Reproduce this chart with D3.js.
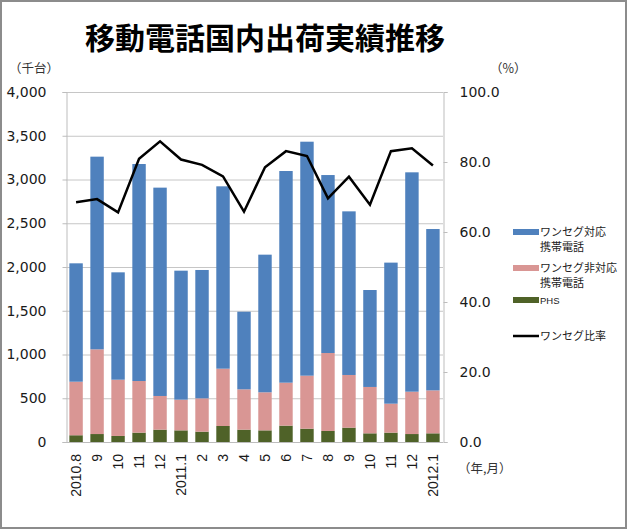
<!DOCTYPE html>
<html>
<head>
<meta charset="utf-8">
<script src="https://cdn.jsdelivr.net/npm/d3@7"></script>
<style>
  body { margin: 0; background: #fff; }
  svg { display: block; }
</style>
</head>
<body>
<svg id="chart"></svg>
<script>
// Data (千台 / %)
const months = ["2010.8", "9", "10", "11", "12", "2011.1", "2", "3", "4", "5", "6", "7", "8", "9", "10", "11", "12", "2012.1"];
const phs = [77, 91, 69, 107, 141, 133, 118, 183, 141, 133, 187, 152, 126, 164, 99, 107, 91, 99];
const nonOneSeg = [612, 968, 643, 590, 385, 351, 381, 655, 461, 435, 491, 606, 891, 602, 530, 331, 484, 491];
const oneSeg = [1353, 2202, 1227, 2480, 2381, 1474, 1467, 2084, 887, 1573, 2419, 2674, 2034, 1870, 1108, 1612, 2507, 1844];
const ratio = [68.5, 69.4, 65.6, 80.9, 85.9, 80.7, 79.2, 75.9, 65.8, 78.5, 83.1, 81.7, 69.6, 75.8, 67.8, 83.1, 83.9, 79.0];

const leftTicks = [0, 500, 1000, 1500, 2000, 2500, 3000, 3500, 4000];
const rightTicks = [0, 20, 40, 60, 80, 100];

const seriesNames = ["ワンセグ対応\n携帯電話", "ワンセグ非対応\n携帯電話", "PHS"];
const colors = { oneSeg: "#4f81bd", nonOneSeg: "#d99694", phs: "#4f6228" };

(() => {
    const width = 629;
    const height = 531;
    const plot = { left: 66, right: 443, top: 92, bottom: 442 };

    const svg = d3.select("#chart")
        .attr("width", width)
        .attr("height", height);

    // outer frame
    svg.append("rect")
        .attr("x", 1).attr("y", 1)
        .attr("width", width - 4).attr("height", height - 4)
        .attr("fill", "#fff")
        .attr("stroke", "#8c8c8c")
        .attr("stroke-width", 2);

    // title
    svg.append("text")
        .attr("x", 265).attr("y", 49)
        .attr("text-anchor", "middle")
        .attr("font-family", "'Noto Sans CJK JP'")
        .attr("font-weight", "bold")
        .attr("font-size", 30)
        .text("移動電話国内出荷実績推移");

    const x = d3.scaleBand()
        .domain(months.map((d, i) => i))
        .range([plot.left, plot.right])
        .paddingInner(0.36)
        .paddingOuter(0.16);

    const y = d3.scaleLinear().domain([0, 4000]).range([plot.bottom, plot.top]);
    const y2 = d3.scaleLinear().domain([0, 100]).range([plot.bottom, plot.top]);

    // gridlines
    svg.append("g")
        .selectAll("line")
        .data(leftTicks)
        .join("line")
        .attr("x1", plot.left).attr("x2", plot.right)
        .attr("y1", d => y(d) + 0.5).attr("y2", d => y(d) + 0.5)
        .attr("stroke", "#c6c6c6")
        .attr("stroke-width", 1);

    // left axis
    const leftAxis = svg.append("g")
        .attr("transform", `translate(${plot.left + 0.5},0)`)
        .call(d3.axisLeft(y).tickValues(leftTicks).tickSize(4).tickPadding(16).tickFormat(d3.format(",")));
    leftAxis.select(".domain").attr("stroke", "#bdbdbd");
    leftAxis.selectAll(".tick line").attr("stroke", "#bdbdbd");
    leftAxis.selectAll("text")
        .attr("font-family", "'DejaVu Sans'")
        .attr("font-size", 14)
        .attr("fill", "#1a1a1a");

    // right axis
    const rightAxis = svg.append("g")
        .attr("transform", `translate(${plot.right + 0.5},0)`)
        .call(d3.axisRight(y2).tickValues(rightTicks).tickSize(4).tickPadding(12).tickFormat(d3.format(".1f")));
    rightAxis.select(".domain").attr("stroke", "#bdbdbd");
    rightAxis.selectAll(".tick line").attr("stroke", "#bdbdbd");
    rightAxis.selectAll("text")
        .attr("font-family", "'DejaVu Sans'")
        .attr("font-size", 14)
        .attr("fill", "#1a1a1a");

    // stacked bars
    const rows = months.map((m, i) => ({ i, phs: phs[i], nonOneSeg: nonOneSeg[i], oneSeg: oneSeg[i] }));
    const keys = ["phs", "nonOneSeg", "oneSeg"];
    const stacked = d3.stack().keys(keys)(rows);

    svg.append("g")
        .selectAll("g")
        .data(stacked)
        .join("g")
        .attr("fill", d => colors[d.key])
        .selectAll("rect")
        .data(d => d)
        .join("rect")
        .attr("x", d => x(d.data.i))
        .attr("width", x.bandwidth())
        .attr("y", d => y(d[1]))
        .attr("height", d => y(d[0]) - y(d[1]));

    // bottom axis line
    svg.append("line")
        .attr("x1", plot.left).attr("x2", plot.right)
        .attr("y1", plot.bottom + 0.5).attr("y2", plot.bottom + 0.5)
        .attr("stroke", "#bdbdbd");

    // ratio line
    const line = d3.line()
        .x((d, i) => x(i) + x.bandwidth() / 2)
        .y(d => y2(d));

    svg.append("path")
        .datum(ratio)
        .attr("d", line)
        .attr("fill", "none")
        .attr("stroke", "#000")
        .attr("stroke-width", 2.5)
        .attr("stroke-linejoin", "miter");

    // x labels (rotated)
    svg.append("g")
        .selectAll("text")
        .data(months)
        .join("text")
        .attr("transform", (d, i) => `translate(${x(i) + x.bandwidth() / 2 + 5},${plot.bottom + 12}) rotate(-90)`)
        .attr("text-anchor", "end")
        .attr("font-family", "'Liberation Sans'")
        .attr("font-size", 14)
        .attr("fill", "#1a1a1a")
        .text(d => d);

    // unit labels
    const unit = (tx, ty, t) => svg.append("text")
        .attr("x", tx).attr("y", ty)
        .attr("font-family", "'Noto Sans CJK JP'")
        .attr("font-size", 12.5)
        .attr("fill", "#333")
        .text(t);
    unit(9, 73, "（千台）");
    unit(490, 73, "（%）");
    unit(458, 473, "（年,月）");

    // legend
    const legend = svg.append("g")
        .attr("font-family", "'Noto Sans CJK JP'")
        .attr("font-size", 11)
        .attr("fill", "#222");

    const legendItems = [
        { name: seriesNames[0], color: colors.oneSeg, y: 232, type: "bar" },
        { name: seriesNames[1], color: colors.nonOneSeg, y: 268, type: "bar" },
        { name: seriesNames[2], color: colors.phs, y: 300, type: "bar" },
        { name: "ワンセグ比率", color: "#000", y: 336, type: "line" }
    ];

    legendItems.forEach(item => {
        legend.append("line")
            .attr("x1", 513).attr("x2", 539)
            .attr("y1", item.y).attr("y2", item.y)
            .attr("stroke", item.color)
            .attr("stroke-width", item.type === "bar" ? 6 : 2.5);
        const t = legend.append("text")
            .attr("x", 540).attr("y", item.y + 4);
        item.name.split("\n").forEach((s, k) => {
            t.append("tspan")
                .attr("x", 540)
                .attr("dy", k === 0 ? 0 : 15)
                .attr("font-family", s === "PHS" ? "'Liberation Sans'" : null)
                .attr("font-size", s === "PHS" ? 9.5 : null)
                .text(s);
        });
    });
})();
</script>
</body>
</html>
